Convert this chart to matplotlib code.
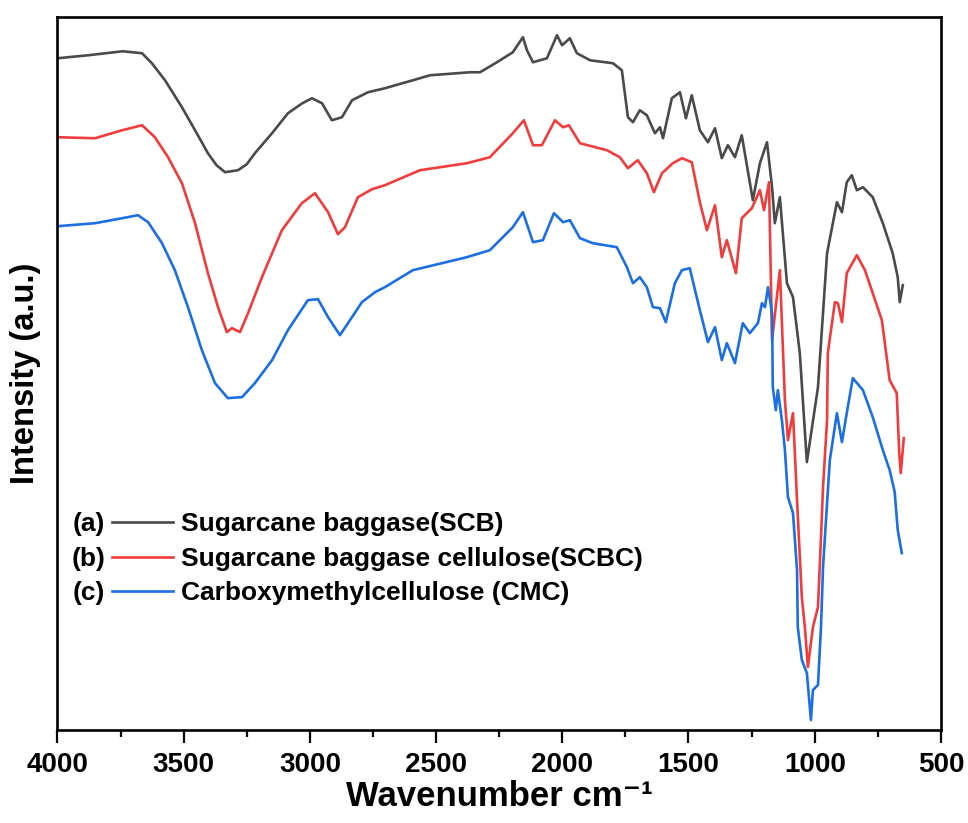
import numpy as np
import matplotlib.pyplot as plt
from matplotlib.ticker import MultipleLocator

plt.rcParams['font.family'] = ['Liberation Sans', 'DejaVu Sans']
plt.rcParams['font.weight'] = 'bold'

# (a) Sugarcane baggase (SCB)
wn_a = [4000, 3879, 3741, 3665, 3626, 3574, 3507, 3455, 3404, 3370, 3336, 3285, 3250, 3218,
        3150, 3087, 3030, 2992, 2952, 2913, 2873, 2833, 2770, 2703, 2592, 2524, 2366, 2326,
        2259, 2196, 2156, 2140, 2116, 2061, 2021, 2001, 1970, 1942, 1890, 1799, 1764, 1740,
        1720, 1693, 1665, 1633, 1613, 1601, 1566, 1534, 1510, 1487, 1455, 1423, 1395, 1368,
        1344, 1316, 1289, 1245, 1217, 1189, 1169, 1158, 1138, 1110, 1086, 1059, 1031, 987,
        951, 912, 892, 873, 853, 833, 809, 770, 730, 691, 671, 663, 651]
int_a = [672, 675, 679, 677, 667, 650, 623, 600, 577, 565, 558, 560, 566, 577,
         597, 617, 627, 632, 627, 610, 613, 630, 638, 642, 650, 655, 658, 658,
         668, 678, 693, 680, 668, 672, 695, 685, 692, 677, 670, 667, 660, 613,
         608, 620, 615, 597, 603, 592, 632, 638, 612, 635, 600, 588, 602, 572,
         585, 573, 595, 530, 567, 588, 543, 507, 533, 447, 433, 377, 268, 343,
         477, 528, 518, 548, 555, 540, 543, 533, 507, 477, 453, 428, 445]

# (b) Sugarcane baggase cellulose (SCBC)
wn_b = [4000, 3851, 3744, 3665, 3614, 3562, 3507, 3455, 3404, 3364, 3329, 3309, 3277, 3245,
        3190, 3111, 3032, 2980, 2928, 2889, 2861, 2810, 2754, 2703, 2564, 2378, 2287, 2196,
        2152, 2116, 2081, 2029, 1997, 1974, 1930, 1823, 1772, 1740, 1701, 1665, 1637, 1605,
        1562, 1526, 1487, 1455, 1427, 1395, 1368, 1348, 1312, 1289, 1249, 1217, 1201, 1181,
        1169, 1138, 1118, 1106, 1086, 1070, 1051, 1039, 1027, 1007, 987, 975, 967, 951, 948,
        920, 908, 892, 873, 833, 801, 774, 734, 703, 675, 665, 659, 647]
int_b = [593, 592, 600, 605, 593, 573, 547, 507, 457, 423, 398, 402, 398, 417,
         453, 500, 527, 537, 518, 496, 503, 533, 541, 545, 560, 567, 573, 597,
         610, 585, 585, 610, 603, 605, 587, 580, 573, 562, 570, 557, 538, 557,
         567, 572, 568, 528, 500, 525, 473, 490, 457, 512, 522, 540, 520, 548,
         390, 460, 330, 290, 317, 230, 133, 103, 63, 103, 123, 193, 243, 310, 377,
         428, 427, 408, 457, 475, 460, 440, 410, 350, 337, 277, 257, 292]

# (c) Carboxymethylcellulose (CMC)
wn_c = [4000, 3851, 3744, 3681, 3641, 3586, 3535, 3483, 3428, 3376, 3325, 3269, 3218, 3150,
        3087, 3008, 2968, 2928, 2881, 2849, 2794, 2742, 2703, 2592, 2378, 2287, 2196, 2156,
        2116, 2077, 2033, 1997, 1970, 1930, 1879, 1784, 1744, 1720, 1693, 1665, 1641, 1613,
        1590, 1554, 1526, 1495, 1455, 1423, 1395, 1368, 1348, 1316, 1285, 1257, 1225, 1209,
        1197, 1185, 1169, 1166, 1154, 1146, 1130, 1118, 1106, 1086, 1070, 1067, 1051, 1031,
        1015, 1007, 987, 975, 967, 951, 940, 912, 892, 873, 849, 809, 770, 730, 703, 683,
        671, 655]
int_c = [504, 507, 512, 515, 508, 487, 460, 423, 380, 347, 332, 333, 347, 370,
         400, 430, 431, 413, 395, 407, 428, 438, 443, 460, 473, 480, 503, 518,
         488, 490, 517, 508, 510, 492, 487, 483, 463, 447, 453, 443, 423, 422,
         408, 447, 460, 462, 420, 388, 403, 370, 387, 367, 407, 397, 407, 427,
         423, 443, 417, 343, 320, 340, 310, 280, 233, 217, 160, 103, 70, 57,
         10, 40, 45, 103, 163, 227, 270, 317, 288, 317, 352, 340, 313, 280, 260, 238,
         200, 177]

labels = ['Sugarcane baggase(SCB)', 'Sugarcane baggase cellulose(SCBC)',
          'Carboxymethylcellulose (CMC)']
prefixes = ['(a)', '(b)', '(c)']
colors = ['#4a4a4a', '#f03c3c', '#1c6fe0']

fig = plt.figure(figsize=(9.68, 8.23), dpi=100)
ax = fig.add_axes([0.0594, 0.113, 0.9126, 0.866])

l_w = 1.9
ax.plot(wn_a, int_a, color=colors[0], linewidth=l_w, label=labels[0])
ax.plot(wn_b, int_b, color=colors[1], linewidth=l_w, label=labels[1])
ax.plot(wn_c, int_c, color=colors[2], linewidth=l_w, label=labels[2])

ax.set_xlim(4000, 500)
ax.set_ylim(0, 713)
ax.xaxis.set_major_locator(MultipleLocator(500))
ax.xaxis.set_minor_locator(MultipleLocator(250))
ax.set_yticks([])
ax.tick_params(axis='x', which='major', direction='out', length=9.5, width=1.6,
               labelsize=20, pad=6, top=False)
ax.tick_params(axis='x', which='minor', direction='out', length=5, width=1.6, top=False)
for s in ax.spines.values():
    s.set_linewidth(1.9)

ax.set_xlabel('Wavenumber cm\u207b\u00b9', fontsize=25, fontweight='bold', labelpad=2)
ax.set_ylabel('Intensity (a.u.)', fontsize=23.5, fontweight='bold', labelpad=12)

leg = ax.legend(loc='lower left', bbox_to_anchor=(0.05, 0.16), frameon=False,
                prop={'size': 19, 'weight': 'bold'}, handlelength=2.3,
                handletextpad=0.3, labelspacing=0.4, borderaxespad=0)

fig.canvas.draw()
rend = fig.canvas.get_renderer()
for i, line in enumerate(leg.get_lines()):
    bb = line.get_window_extent(rend)
    tb = leg.get_texts()[i].get_window_extent(rend)
    ax.annotate(prefixes[i], xy=(bb.x0 - 7, (tb.y0 + tb.y1) / 2), xycoords='figure pixels',
                ha='right', va='center', fontsize=19, fontweight='bold')

plt.savefig('out.png', dpi=100)
